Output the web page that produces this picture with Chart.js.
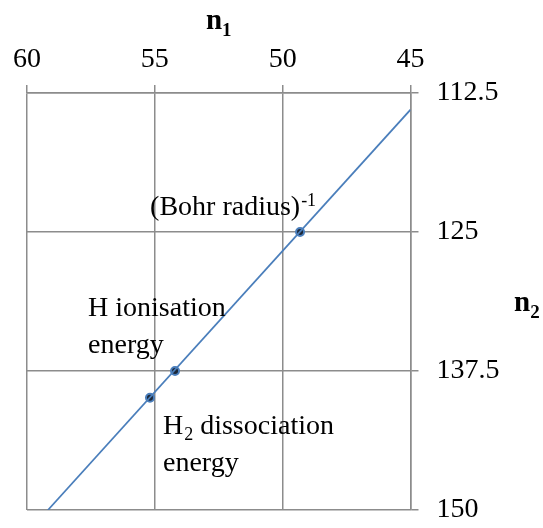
<!DOCTYPE html>
<html>
<head>
<meta charset="utf-8">
<title>n1 vs n2</title>
<script src="https://cdn.jsdelivr.net/npm/chart.js@4.4.1/dist/chart.umd.min.js"></script>
<style>
    html, body { margin: 0; padding: 0; background: #ffffff; }
    #wrap { width: 543px; height: 528px; }
</style>
</head>
<body>
<div id="wrap"><canvas id="nChart"></canvas></div>
<script>
// axis ticks
const n1Ticks = [60, 55, 50, 45];
const n2Ticks = [112.5, 125, 137.5, 150];

// fitted straight line (end points)
const lineN1 = [59.18, 45];
const lineN2 = [150, 114.0];

// marked points
const pointN1 = [49.32, 54.21, 55.19];
const pointN2 = [125.0, 137.5, 139.9];
const pointNames = ["(Bohr radius)", "H ionisation", "H2 dissociation"];

const SERIF = "'Liberation Serif', 'Times New Roman', serif";

// text notes next to each marked point, offsets are in pixels from the point
const notes = [
    { idx: 0, dx: -150, dy: -17, lines: [["(Bohr radius)", "-1", "sup"]] },
    { idx: 1, dx: -87, dy: -55, lines: [["H ionisation"], ["energy"]] },
    { idx: 2, dx: 13, dy: 36, lines: [["H", "2", "sub", " dissociation"], ["energy"]] }
];

function drawRich(ctx, parts, x, y) {
    // parts: [main, small, kind, rest]
    ctx.font = "28px " + SERIF;
    ctx.fillText(parts[0], x, y);
    let cx = x + ctx.measureText(parts[0]).width;
    if (parts.length > 1) {
        ctx.font = "18px " + SERIF;
        let sy = parts[2] === "sup" ? y - 9 : y + 6;
        ctx.fillText(parts[1], cx + 1, sy);
        cx += ctx.measureText(parts[1]).width + 1;
        if (parts[3]) {
            ctx.font = "28px " + SERIF;
            ctx.fillText(parts[3], cx, y);
        }
    }
}

const textPlugin = {
    id: "textPlugin",
    afterDatasetsDraw(chart) {
        const ctx = chart.ctx;
        const xs = chart.scales.x;
        const ys = chart.scales.y;
        ctx.save();
        ctx.fillStyle = "#000000";
        ctx.textAlign = "left";
        ctx.textBaseline = "alphabetic";
        notes.forEach(function (n) {
            let px = xs.getPixelForValue(pointN1[n.idx]);
            let py = ys.getPixelForValue(pointN2[n.idx]);
            n.lines.forEach(function (ln, i) {
                drawRich(ctx, ln, px + n.dx, py + n.dy + i * 37);
            });
        });
        ctx.restore();
    },
    afterDraw(chart) {
        const ctx = chart.ctx;
        const area = chart.chartArea;
        ctx.save();
        ctx.fillStyle = "#000000";
        ctx.textBaseline = "alphabetic";
        ctx.textAlign = "left";

        // n1 title, centred above the plot
        ctx.font = "bold 29px " + SERIF;
        let w1 = ctx.measureText("n").width;
        ctx.font = "bold 19px " + SERIF;
        let w2 = ctx.measureText("1").width;
        let cx = (area.left + area.right) / 2 - (w1 + w2) / 2;
        ctx.font = "bold 29px " + SERIF;
        ctx.fillText("n", cx, 29);
        ctx.font = "bold 19px " + SERIF;
        ctx.fillText("1", cx + w1, 36);

        // n2 title, to the right
        let cy = 311;
        ctx.font = "bold 29px " + SERIF;
        ctx.fillText("n", 514, cy);
        let wn = ctx.measureText("n").width;
        ctx.font = "bold 19px " + SERIF;
        ctx.fillText("2", 514 + wn, cy + 7);
        ctx.restore();
    }
};

const gridStyle = {
    color: "#8c8c8c",
    lineWidth: 1.5,
    drawTicks: true,
    tickLength: 8,
    tickColor: "#8c8c8c"
};

new Chart(document.getElementById("nChart"), {
    type: "scatter",
    data: {
        datasets: [
            {
                label: "fit",
                data: lineN1.map(function (v, i) { return { x: v, y: lineN2[i] }; }),
                showLine: true,
                borderColor: "#4a7ebb",
                borderWidth: 1.7,
                pointRadius: 0,
                fill: false
            },
            {
                label: "points",
                data: pointN1.map(function (v, i) { return { x: v, y: pointN2[i], name: pointNames[i] }; }),
                showLine: false,
                pointRadius: 4,
                pointBackgroundColor: "#1b2738",
                pointBorderColor: "#4a7ebb",
                pointBorderWidth: 2
            }
        ]
    },
    options: {
        responsive: true,
        maintainAspectRatio: false,
        animation: false,
        layout: { padding: { left: 27, bottom: 0, top: 0, right: 0 } },
        plugins: {
            legend: { display: false },
            tooltip: { enabled: false }
        },
        scales: {
            x: {
                type: "linear",
                position: "top",
                reverse: true,
                min: n1Ticks[n1Ticks.length - 1],
                max: n1Ticks[0],
                afterBuildTicks: function (scale) {
                    scale.ticks = n1Ticks.map(function (v) { return { value: v }; });
                },
                afterFit: function (scale) { scale.height = 93; },
                grid: gridStyle,
                border: { color: "#8c8c8c", width: 1.5 },
                ticks: {
                    color: "#000000",
                    padding: 9,
                    maxRotation: 0,
                    font: { family: SERIF, size: 28 }
                }
            },
            y: {
                type: "linear",
                position: "right",
                reverse: true,
                min: n2Ticks[0],
                max: n2Ticks[n2Ticks.length - 1],
                afterBuildTicks: function (scale) {
                    scale.ticks = n2Ticks.map(function (v) { return { value: v }; });
                },
                afterFit: function (scale) {
                    scale.width = 132.5;
                    scale.paddingTop = 0;
                    scale.paddingBottom = 18;
                },
                grid: gridStyle,
                border: { color: "#8c8c8c", width: 1.5 },
                ticks: {
                    color: "#000000",
                    padding: 18,
                    font: { family: SERIF, size: 28 }
                }
            }
        }
    },
    plugins: [textPlugin]
});
</script>
</body>
</html>
